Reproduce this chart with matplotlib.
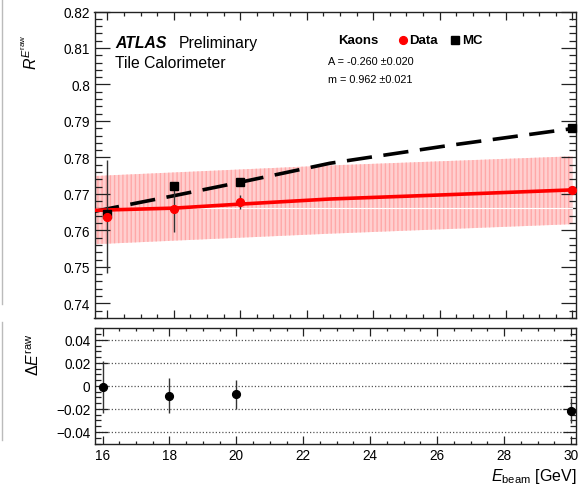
import matplotlib
matplotlib.use("Agg")
import matplotlib.pyplot as plt
from matplotlib.ticker import MultipleLocator
from matplotlib.lines import Line2D

plt.rcParams['font.family'] = ['Liberation Sans', 'DejaVu Sans']
plt.rcParams['mathtext.fontset'] = 'custom'
plt.rcParams['mathtext.rm'] = 'Liberation Sans'
plt.rcParams['mathtext.it'] = 'Liberation Sans:italic'
plt.rcParams['mathtext.bf'] = 'Liberation Sans:bold'

# ---- data ----
energies = [16, 18, 20, 30]
data_resp = [0.7638, 0.7659, 0.7677, 0.7711]
data_err = [0.0154, 0.0064, 0.0019, 0.0010]
mc_resp = [0.7645, 0.7723, 0.7732, 0.7881]

fit_x = [15.6, 18, 20, 22.7, 26.3, 30]
data_fit = [0.7655, 0.7661, 0.7672, 0.7686, 0.7698, 0.7711]
mc_fit = [0.7652, 0.7695, 0.7732, 0.7784, 0.7833, 0.7879]

band_x = [15.6, 22.7, 30.0]
band_hi = [0.7749, 0.7778, 0.7803]
band_lo = [0.7562, 0.7591, 0.7617]
band_line = 0.7662

diff_resp = [-0.0008, -0.0085, -0.0072, -0.0215]
diff_err = [0.0225, 0.0150, 0.0125, 0.0110]

fit_A = "A = -0.260 \u00b10.020"
fit_m = "m = 0.962 \u00b10.021"

W, H = 579, 489
fig = plt.figure(figsize=(W / 100, H / 100), dpi=100)

def box(l, r, t, b):
    return [l / W, 1 - b / H, (r - l) / W, (b - t) / H]

ax = fig.add_axes(box(94.5, 576, 12.5, 319.3))
axr = fig.add_axes(box(94.5, 576, 329.3, 444.5))

# ---- top panel ----
ax.fill_between(band_x, band_lo, band_hi, facecolor='#ffcfcf', edgecolor='#ffa8a8',
                hatch='||||', linewidth=0, zorder=1)
ax.plot([band_x[0], band_x[-1]], [band_line, band_line], color='white', lw=0.8, zorder=2)
ax.plot(fit_x, mc_fit, color='black', lw=2.6, dashes=(7, 3.2), zorder=3)
ax.plot(fit_x, data_fit, color='#ff0000', lw=2.6, zorder=3)
ax.errorbar(energies, data_resp, yerr=data_err, fmt='none', ecolor='#333333',
            elinewidth=1.0, capsize=0, zorder=4)
ax.plot(energies, mc_resp, 's', color='black', ms=5.2, zorder=5, clip_on=False)
ax.plot(energies, data_resp, 'o', color='#ff0000', ms=5.6, zorder=6, clip_on=False)

ax.set_xlim(15.61, 30.11)
ax.set_ylim(0.7359, 0.82)
ax.yaxis.set_minor_locator(MultipleLocator(0.002))
ax.xaxis.set_major_locator(MultipleLocator(2))
ax.xaxis.set_minor_locator(MultipleLocator(0.5))
ax.set_yticks([0.74, 0.75, 0.76, 0.77, 0.78, 0.79, 0.8, 0.81, 0.82])
ax.set_yticklabels(['0.74', '0.75', '0.76', '0.77', '0.78', '0.79', '0.8', '0.81', '0.82'])
ax.tick_params(axis='both', which='both', direction='in', top=True, right=True,
               width=0.9, color='#222222')
ax.tick_params(axis='y', which='major', length=10.5, labelsize=9.8, pad=3)
ax.tick_params(axis='y', which='minor', length=5.2)
ax.tick_params(axis='x', which='major', length=6, labelbottom=False)
ax.tick_params(axis='x', which='minor', length=3)
for s in ax.spines.values():
    s.set_linewidth(1.0)
    s.set_color('#222222')

ax.text(0.043, 0.900, 'ATLAS', transform=ax.transAxes, fontsize=11.3,
        fontweight='bold', fontstyle='italic', va='center', ha='left')
ax.text(0.175, 0.900, 'Preliminary', transform=ax.transAxes, fontsize=11.3,
        va='center', ha='left')
ax.text(0.043, 0.834, 'Tile Calorimeter', transform=ax.transAxes, fontsize=11.3,
        va='center', ha='left')

ax.text(0.506, 0.908, 'Kaons', transform=ax.transAxes, fontsize=9.5,
        fontweight='bold', va='center', ha='left')
ax.add_line(Line2D([0.641], [0.908], marker='o', color='#ff0000', ms=5.6,
                   transform=ax.transAxes, ls='none'))
ax.text(0.653, 0.908, 'Data', transform=ax.transAxes, fontsize=9.5,
        fontweight='bold', va='center', ha='left')
ax.add_line(Line2D([0.748], [0.908], marker='s', color='black', ms=5.2,
                   transform=ax.transAxes, ls='none'))
ax.text(0.764, 0.908, 'MC', transform=ax.transAxes, fontsize=9.5,
        fontweight='bold', va='center', ha='left')
ax.text(0.484, 0.840, fit_A, transform=ax.transAxes, fontsize=7.8,
        va='center', ha='left')
ax.text(0.484, 0.780, fit_m, transform=ax.transAxes, fontsize=7.8,
        va='center', ha='left')

# ---- bottom panel ----
for yv in [-0.04, -0.02, 0, 0.02, 0.04]:
    axr.axhline(yv, color='#555555', lw=0.9, ls=(0, (1, 1.6)), zorder=1)
axr.errorbar(energies, diff_resp, yerr=diff_err, fmt='o', color='black', ms=5.6,
             ecolor='#333333', elinewidth=1.0, capsize=0, zorder=3, clip_on=False)
axr.set_xlim(15.76, 30.15)
axr.set_ylim(-0.05, 0.05)
axr.xaxis.set_major_locator(MultipleLocator(2))
axr.xaxis.set_minor_locator(MultipleLocator(0.5))
axr.set_yticks([-0.04, -0.02, 0, 0.02, 0.04])
axr.set_yticklabels(['\u22120.04', '\u22120.02', '0', '0.02', '0.04'])
axr.yaxis.set_minor_locator(MultipleLocator(0.005))
axr.tick_params(axis='both', which='both', direction='in', top=True, right=True,
                width=0.9, color='#222222')
axr.tick_params(axis='y', which='major', length=9.5, labelsize=9.8, pad=3)
axr.tick_params(axis='y', which='minor', length=4.5)
axr.tick_params(axis='x', which='major', length=5.5, labelsize=9.8, pad=3)
axr.tick_params(axis='x', which='minor', length=2.5)
for s in axr.spines.values():
    s.set_linewidth(1.0)
    s.set_color('#222222')

# axis titles
fig.text(30 / W, 1 - 34 / H, r'$R^{E^{\rm raw}}$', rotation=90, fontsize=11.5,
         ha='center', va='top')
fig.text(33 / W, 1 - 333 / H, r'$\Delta E^{\rm raw}$', rotation=90, fontsize=11.5,
         ha='center', va='top')
fig.text(576 / W, 1 - 486 / H, r'$E_{\rm beam}$ [GeV]', fontsize=11.5,
         ha='right', va='bottom')

# faint frame lines at the left edge of the picture
fig.add_artist(Line2D([2 / W, 2 / W], [1 - 0 / H, 1 - 305 / H], color='#bbbbbb', lw=1.0))
fig.add_artist(Line2D([2 / W, 2 / W], [1 - 323 / H, 1 - 441 / H], color='#bbbbbb', lw=1.0))

fig.savefig('out.png', dpi=100)
